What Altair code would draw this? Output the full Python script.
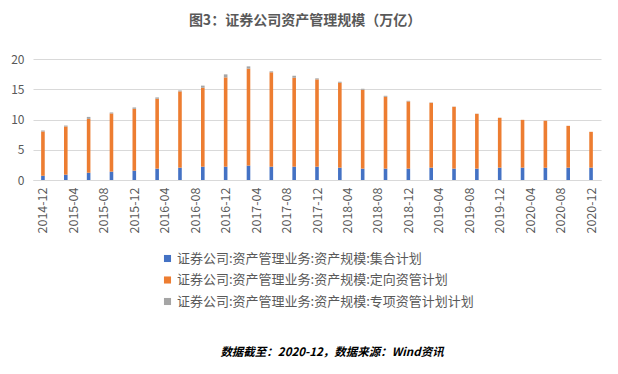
import altair as alt
import pandas as pd

dates = ["2014-12", "2015-03", "2015-06", "2015-09", "2015-12", "2016-03", "2016-06",
         "2016-09", "2016-12", "2017-03", "2017-06", "2017-09", "2017-12", "2018-03",
         "2018-06", "2018-09", "2018-12", "2019-03", "2019-06", "2019-09", "2019-12",
         "2020-03", "2020-06", "2020-09", "2020-12"]

collective = [0.72, 0.88, 1.20, 1.38, 1.55, 1.88, 2.04, 2.20, 2.20, 2.38, 2.20, 2.20, 2.20,
              2.04, 1.88, 1.88, 1.88, 2.04, 1.88, 1.88, 2.04, 2.04, 2.04, 2.04, 2.04]
directed = [7.29, 7.96, 8.90, 9.62, 10.22, 11.55, 12.60, 13.05, 14.76, 16.02, 15.60, 14.70,
            14.43, 14.04, 13.04, 11.88, 11.10, 10.72, 10.22, 9.06, 8.24, 7.90, 7.74, 6.91, 5.92]
special = [0.17, 0.16, 0.33, 0.16, 0.22, 0.22, 0.16, 0.35, 0.50, 0.38, 0.16, 0.33, 0.17,
           0.16, 0.16, 0.16, 0.11, 0.05, 0.03, 0.02, 0.02, 0.01, 0.01, 0.01, 0.01]

series_names = ["证券公司:资产管理业务:资产规模:集合计划",
                "证券公司:资产管理业务:资产规模:定向资管计划",
                "证券公司:资产管理业务:资产规模:专项资管计划计划"]
series_colors = ["#4472C4", "#ED7D31", "#A5A5A5"]
tick_months = list(range(0, 73, 4))

title_text = "图3：证券公司资产管理规模（万亿）"
footnote_text = "数据截至：2020-12，数据来源：Wind资讯"

FONT = "Noto Sans CJK SC"


def month_index(s):
    y, m = s.split("-")
    return (int(y) - 2014) * 12 + int(m) - 12


rows = []
for i, d in enumerate(dates):
    for k, vals in enumerate([collective, directed, special]):
        rows.append({"date": d, "m": month_index(d), "series": series_names[k],
                     "ord": k, "value": vals[i]})
df = pd.DataFrame(rows)

label_expr = ("(2014 + floor((datum.value + 11) / 12)) + '-' + "
              "((((datum.value + 11) % 12) + 1) < 10 ? '0' : '') + "
              "(((datum.value + 11) % 12) + 1)")

bars = alt.Chart(df).mark_bar(size=3.6).encode(
    x=alt.X("m:Q",
            scale=alt.Scale(domain=[-0.65, 72.65], nice=False, zero=False),
            axis=alt.Axis(values=tick_months, labelExpr=label_expr, labelAngle=-90,
                          grid=False, ticks=False, domainColor="#d9d9d9",
                          labelColor="#595959", labelFontSize=12.5, labelFont=FONT,
                          labelPadding=7, labelFlush=False, labelOverlap=False,
                          title=None)),
    y=alt.Y("value:Q", stack="zero",
            scale=alt.Scale(domain=[0, 20], nice=False),
            axis=alt.Axis(values=[0, 5, 10, 15, 20], grid=True, gridColor="#d9d9d9",
                          domain=False, ticks=False, labelColor="#595959",
                          labelFontSize=12, labelFont=FONT, labelPadding=9,
                          title=None)),
    color=alt.Color("series:N",
                    scale=alt.Scale(domain=series_names, range=series_colors),
                    legend=alt.Legend(orient="none", legendX=128, legendY=193,
                                      direction="vertical", title=None,
                                      symbolType="square", symbolSize=50,
                                      symbolStrokeWidth=0,
                                      labelFont=FONT, labelFontSize=13,
                                      labelColor="#595959", rowPadding=7.5,
                                      labelOffset=3, labelLimit=400)),
    order=alt.Order("ord:Q", sort="ascending"),
)

foot = alt.Chart(pd.DataFrame({"t": [footnote_text]})).mark_text(
    font=FONT, fontSize=11.5, fontStyle="italic", fontWeight="bold",
    color="#000000", align="center", baseline="middle"
).encode(text="t:N", x=alt.value(299), y=alt.value(294))

chart = alt.layer(bars, foot).properties(
    width=568, height=121,
    padding={"left": 25, "top": 51, "right": 9, "bottom": 178},
    autosize=alt.AutoSizeParams(type="none"),
    title=alt.TitleParams(title_text, font=FONT, fontSize=14, fontWeight="bold",
                          color="#595959", anchor="middle", dx=-12, offset=25),
).configure_view(stroke=None)

chart.save("out.html", embed_options={"renderer": "svg", "actions": False})
